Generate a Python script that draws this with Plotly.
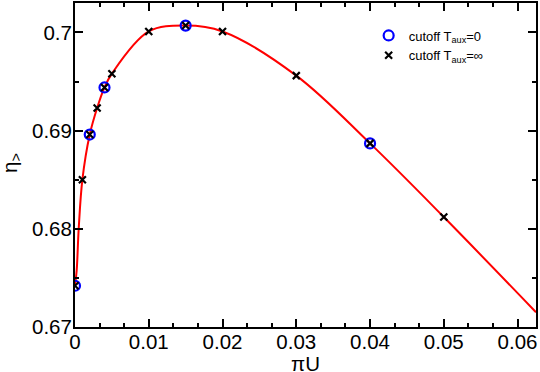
import plotly.graph_objects as go

# data
circ_x = [0.0, 0.002, 0.004, 0.015, 0.04]
circ_y = [0.6742, 0.6896, 0.6944, 0.70070, 0.6887]

cross_x = [0.0, 0.001, 0.002, 0.003, 0.004, 0.005, 0.01, 0.015, 0.02, 0.03, 0.04, 0.05]
cross_y = [0.6742, 0.6850, 0.6896, 0.6923, 0.6944, 0.6958, 0.7001, 0.70070, 0.7001, 0.6956, 0.6887, 0.6812]

curve_x = [0.0, 0.00023, 0.0005, 0.001, 0.002, 0.003, 0.004, 0.005, 0.01, 0.015, 0.02, 0.03, 0.04, 0.05, 0.0625]
curve_y = [0.6742, 0.6758, 0.6800, 0.6850, 0.6896, 0.6923, 0.6944, 0.6958, 0.7001, 0.70070, 0.7001, 0.6956, 0.6887, 0.6812, 0.6715]

x_ticks = [0, 0.01, 0.02, 0.03, 0.04, 0.05, 0.06]
x_ticktext = ["0", "0.01", "0.02", "0.03", "0.04", "0.05", "0.06"]
y_ticks = [0.67, 0.68, 0.69, 0.70]
y_ticktext = ["0.67", "0.68", "0.69", "0.7"]

x_title = "πU"
y_title = "η<sub>></sub>"

FONT = "Liberation Sans, Arial, sans-serif"
FS = 20.5

fig = go.Figure()
fig.add_trace(go.Scatter(x=curve_x, y=curve_y, mode="lines",
                         line=dict(color="#ff0000", width=2, shape="spline", smoothing=1.0),
                         showlegend=False, hoverinfo="skip"))
fig.add_trace(go.Scatter(x=circ_x, y=circ_y, mode="markers",
                         name="cutoff T<sub>aux</sub>=0",
                         marker=dict(symbol="circle-open", size=10, color="#0000ff",
                                     line=dict(width=2.2, color="#0000ff"))))
fig.add_trace(go.Scatter(x=cross_x, y=cross_y, mode="markers",
                         name="cutoff T<sub>aux</sub>=∞",
                         marker=dict(symbol="x-thin-open", size=7, color="#000000",
                                     line=dict(width=2.2, color="#000000"))))

axis_common = dict(showgrid=False, zeroline=False, showline=True, linecolor="black",
                   linewidth=2, mirror="ticks", ticks="inside", ticklen=8, tickwidth=1.5,
                   tickcolor="black", automargin=False,
                   tickfont=dict(family=FONT, size=FS, color="black"))

fig.update_xaxes(range=[0, 0.0625], tickvals=x_ticks, ticktext=x_ticktext,
                 ticklabelstandoff=-5,
                 minor=dict(dtick=0.01 / 3, tick0=0, ticks="inside", ticklen=4,
                            tickwidth=1.5, tickcolor="black"),
                 **axis_common)
fig.update_yaxes(range=[0.67, 0.703], tickvals=y_ticks, ticktext=y_ticktext,
                 ticklabelstandoff=-3,
                 minor=dict(dtick=0.005, tick0=0.67, ticks="inside", ticklen=4,
                            tickwidth=1.5, tickcolor="black"),
                 **axis_common)

# axis titles placed as annotations for exact positioning
fig.add_annotation(text=x_title, xref="paper", yref="paper", x=0.5, y=0,
                   xanchor="center", yanchor="middle", yshift=-36, showarrow=False,
                   font=dict(family=FONT, size=FS, color="black"))
fig.add_annotation(text=y_title, xref="paper", yref="paper", x=0, y=0.5,
                   xanchor="center", yanchor="middle", xshift=-64, yshift=2,
                   textangle=-90, showarrow=False,
                   font=dict(family=FONT, size=FS, color="black"))

fig.update_layout(width=540, height=372,
                  margin=dict(l=75, r=4, t=3, b=45),
                  paper_bgcolor="white", plot_bgcolor="white",
                  font=dict(family=FONT, color="black"),
                  legend=dict(x=0.637, y=0.946, xanchor="left", yanchor="top",
                              bgcolor="rgba(0,0,0,0)", font=dict(family=FONT, size=13),
                              tracegroupgap=0))

fig.write_html("out.html", config={"displayModeBar": False},
               post_script="document.body.style.margin='0';document.body.style.padding='0';")
